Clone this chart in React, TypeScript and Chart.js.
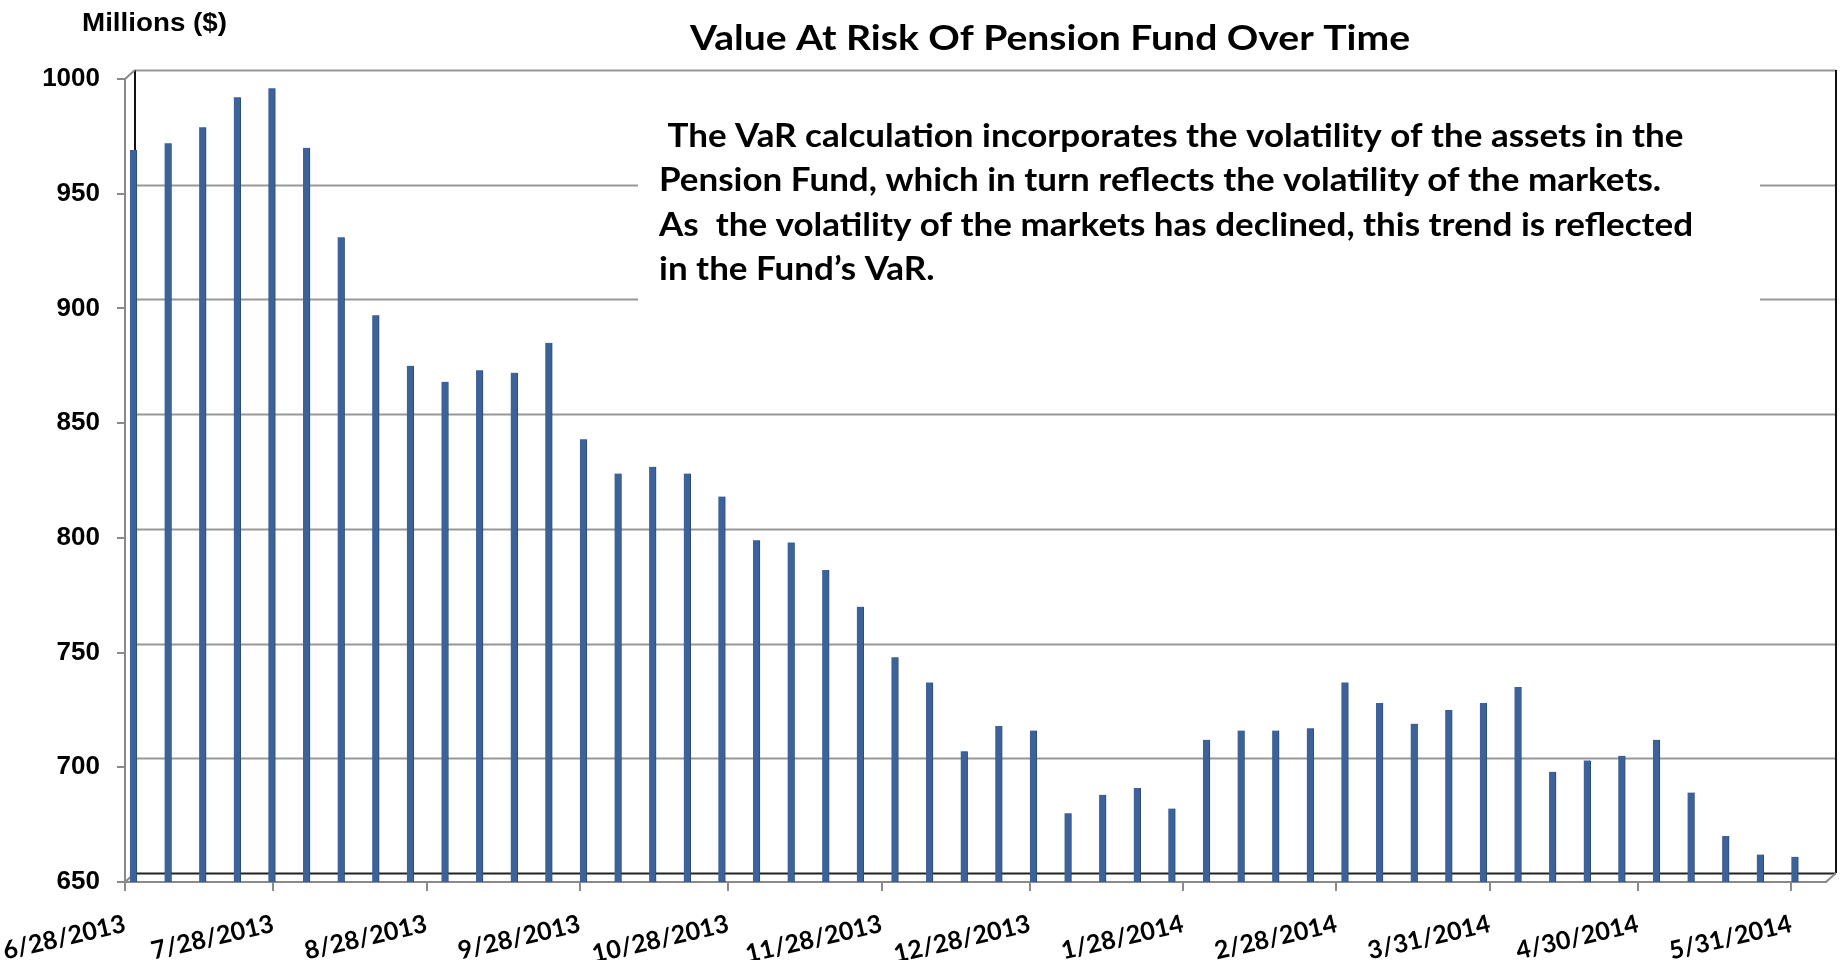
import React, { useEffect, useRef } from "react";
import { Chart, registerables } from "chart.js";

Chart.register(...registerables);

// ---- Data ----
const weekDates: string[] = [
  "2013-06-28", "2013-07-05", "2013-07-12", "2013-07-19", "2013-07-26",
  "2013-08-02", "2013-08-09", "2013-08-16", "2013-08-23", "2013-08-30",
  "2013-09-06", "2013-09-13", "2013-09-20", "2013-09-27", "2013-10-04",
  "2013-10-11", "2013-10-18", "2013-10-25", "2013-11-01", "2013-11-08",
  "2013-11-15", "2013-11-22", "2013-11-29", "2013-12-06", "2013-12-13",
  "2013-12-20", "2013-12-27", "2014-01-03", "2014-01-10", "2014-01-17",
  "2014-01-24", "2014-01-31", "2014-02-07", "2014-02-14", "2014-02-21",
  "2014-02-28", "2014-03-07", "2014-03-14", "2014-03-21", "2014-03-28",
  "2014-04-04", "2014-04-11", "2014-04-18", "2014-04-25", "2014-05-02",
  "2014-05-09", "2014-05-16", "2014-05-23", "2014-05-30",
];

const varValues: number[] = [
  969, 972, 979, 992, 996, 970, 931, 897, 875, 868,
  873, 872, 885, 843, 828, 831, 828, 818, 799, 798,
  786, 770, 748, 737, 707, 718, 716, 680, 688, 691,
  682, 712, 716, 716, 717, 737, 728, 719, 725, 728,
  735, 698, 703, 705, 712, 689, 670, 662, 661,
];

const tickDates: string[] = [
  "2013-06-28", "2013-07-28", "2013-08-28", "2013-09-28", "2013-10-28",
  "2013-11-28", "2013-12-28", "2014-01-28", "2014-02-28", "2014-03-31",
  "2014-04-30", "2014-05-31",
];
const tickLabels: string[] = [
  "6/28/2013", "7/28/2013", "8/28/2013", "9/28/2013", "10/28/2013",
  "11/28/2013", "12/28/2013", "1/28/2014", "2/28/2014", "3/31/2014",
  "4/30/2014", "5/31/2014",
];

const yMin = 650;
const yMax = 1000;
const yStep = 50;

const titleText = "Value At Risk Of Pension Fund Over Time";
const unitText = "Millions ($)";
const noteLines: string[] = [
  " The VaR calculation incorporates the volatility of the assets in the",
  "Pension Fund, which in turn reflects the volatility of the markets.",
  "As  the volatility of the markets has declined, this trend is reflected",
  "in the Fund\u2019s VaR.",
];

// ---- helpers ----
const toUTC = (s: string) => {
  const [y, m, d] = s.split("-").map(Number);
  return Date.UTC(y, m - 1, d);
};
const origin = toUTC(weekDates[0]);
const dayOf = (s: string) => Math.round((toUTC(s) - origin) / 86400000);

const tickDays = tickDates.map(dayOf);
const labelByDay: Record<number, string> = {};
tickDays.forEach((d, i) => (labelByDay[d] = tickLabels[i]));

const X_MAX = 344;
const DEPTH_DAYS = 1.7; // 3D depth shift of the columns
const DX = 10;
const DY = -9;

const LATO = "Lato, 'Open Sans', sans-serif";
const ARIAL = "'Liberation Sans', Arial, sans-serif";

// draws text with a given font size, squeezed horizontally to a target width
const drawFitted = (
  ctx: CanvasRenderingContext2D,
  text: string,
  font: string,
  x: number,
  y: number,
  sx: number,
) => {
  ctx.save();
  ctx.font = font;
  ctx.translate(x, y);
  ctx.scale(sx, 1);
  ctx.fillText(text, 0, 0);
  ctx.restore();
};

const wallPlugin = {
  id: "wall3d",
  beforeDatasetsDraw(chart: any) {
    const { ctx, chartArea, scales } = chart;
    const { left, right, top, bottom } = chartArea;
    const y = scales.y;
    ctx.save();
    for (let v = yMin; v <= yMax; v += yStep) {
      const py = Math.round(y.getPixelForValue(v) + DY) + 0.5;
      ctx.beginPath();
      ctx.strokeStyle = v === yMin ? "#222222" : "#979797";
      ctx.lineWidth = 2;
      ctx.moveTo(left + DX, py);
      ctx.lineTo(right + DX, py);
      ctx.stroke();
    }
    ctx.strokeStyle = "#111111";
    ctx.lineWidth = 2;
    ctx.beginPath();
    ctx.moveTo(left + DX, top + DY);
    ctx.lineTo(left + DX, bottom + DY);
    ctx.moveTo(right + DX, top + DY);
    ctx.lineTo(right + DX, bottom + DY);
    ctx.stroke();
    ctx.strokeStyle = "#8a8a8a";
    ctx.beginPath();
    ctx.moveTo(left, top);
    ctx.lineTo(left + DX, top + DY);
    ctx.moveTo(left, bottom);
    ctx.lineTo(left + DX, bottom + DY);
    ctx.moveTo(right, bottom);
    ctx.lineTo(right + DX, bottom + DY);
    ctx.stroke();
    ctx.restore();
  },
  afterDraw(chart: any) {
    const { ctx } = chart;
    ctx.save();
    // text box
    ctx.fillStyle = "#ffffff";
    ctx.fillRect(638, 98, 1122, 236);
    ctx.fillStyle = "#000000";
    ctx.textBaseline = "alphabetic";
    ctx.textAlign = "left";
    const noteFont = `bold 33px ${LATO}`;
    ctx.font = noteFont;
    const sxNote = 1034 / ctx.measureText(noteLines[2]).width;
    const baselines = [147, 191, 236, 280];
    noteLines.forEach((line, i) => drawFitted(ctx, line, noteFont, 659, baselines[i], sxNote));
    // title
    const titleFont = `bold 35px ${LATO}`;
    ctx.font = titleFont;
    const tw = ctx.measureText(titleText).width;
    const sxT = 720 / tw;
    drawFitted(ctx, titleText, titleFont, 1050 - 360, 50, sxT);
    // unit label
    const unitFont = `bold 25px ${ARIAL}`;
    ctx.font = unitFont;
    const sxU = 145 / ctx.measureText(unitText).width;
    drawFitted(ctx, unitText, unitFont, 82, 31, sxU);
    ctx.restore();
  },
};

export default function App() {
  const ref = useRef<HTMLCanvasElement | null>(null);

  useEffect(() => {
    document.body.style.margin = "0";
    const canvas = ref.current;
    if (!canvas) return;
    const data = weekDates.map((d, i) => ({ x: dayOf(d), y: varValues[i] }));
    const chart = new Chart(canvas, {
      type: "bar",
      data: {
        datasets: [
          {
            data: data as any,
            xAxisID: "xb",
            yAxisID: "y",
            backgroundColor: "#3d6299",
            borderColor: "#2c4a78",
            borderWidth: { left: 0, right: 1, top: 0, bottom: 0 } as any,
            barThickness: 7,
          },
        ],
      },
      options: {
        responsive: false,
        animation: false,
        devicePixelRatio: 1,
        layout: { padding: { left: 0, right: 17, top: 79, bottom: 0 } },
        plugins: { legend: { display: false }, tooltip: { enabled: false }, title: { display: false } },
        scales: {
          xb: {
            type: "linear",
            display: false,
            offset: false,
            min: -DEPTH_DAYS,
            max: X_MAX - DEPTH_DAYS,
            grid: { offset: false },
          },
          x: {
            type: "linear",
            position: "bottom",
            offset: false,
            min: 0,
            max: X_MAX,
            afterBuildTicks: (scale: any) => {
              scale.ticks = tickDays.map((v) => ({ value: v }));
            },
            afterFit: (scale: any) => {
              scale.height = 78;
              scale.paddingLeft = 0;
              scale.paddingRight = 0;
              scale.paddingTop = 0;
              scale.paddingBottom = 0;
            },
            ticks: {
              autoSkip: false,
              minRotation: 13,
              maxRotation: 13,
              padding: 18,
              color: "#000000",
              font: { family: LATO, weight: "bold", size: 25 },
              callback: (v: any) => labelByDay[Number(v)] ?? "",
            },
            grid: {
              offset: false,
              drawOnChartArea: false,
              drawTicks: true,
              tickLength: 9,
              color: "#8a8a8a",
              lineWidth: 2,
            },
            border: { display: true, color: "#8a8a8a", width: 2 },
          },
          y: {
            type: "linear",
            min: yMin,
            max: yMax,
            afterFit: (scale: any) => {
              scale.width = 125;
              scale.paddingTop = 0;
              scale.paddingBottom = 0;
            },
            ticks: {
              stepSize: yStep,
              padding: 17,
              color: "#000000",
              font: { family: ARIAL, weight: "bold", size: 26 },
              callback: (v: any) => String(v),
            },
            grid: {
              drawOnChartArea: false,
              drawTicks: true,
              tickLength: 8,
              color: "#8a8a8a",
              lineWidth: 2,
            },
            border: { display: true, color: "#8a8a8a", width: 2 },
          },
        },
      },
      plugins: [wallPlugin],
    } as any);
    return () => chart.destroy();
  }, []);

  return (
    <div style={{ width: 1843, height: 960, position: "relative", background: "#ffffff" }}>
      <canvas ref={ref} width={1843} height={960} style={{ display: "block" }} />
    </div>
  );
}
